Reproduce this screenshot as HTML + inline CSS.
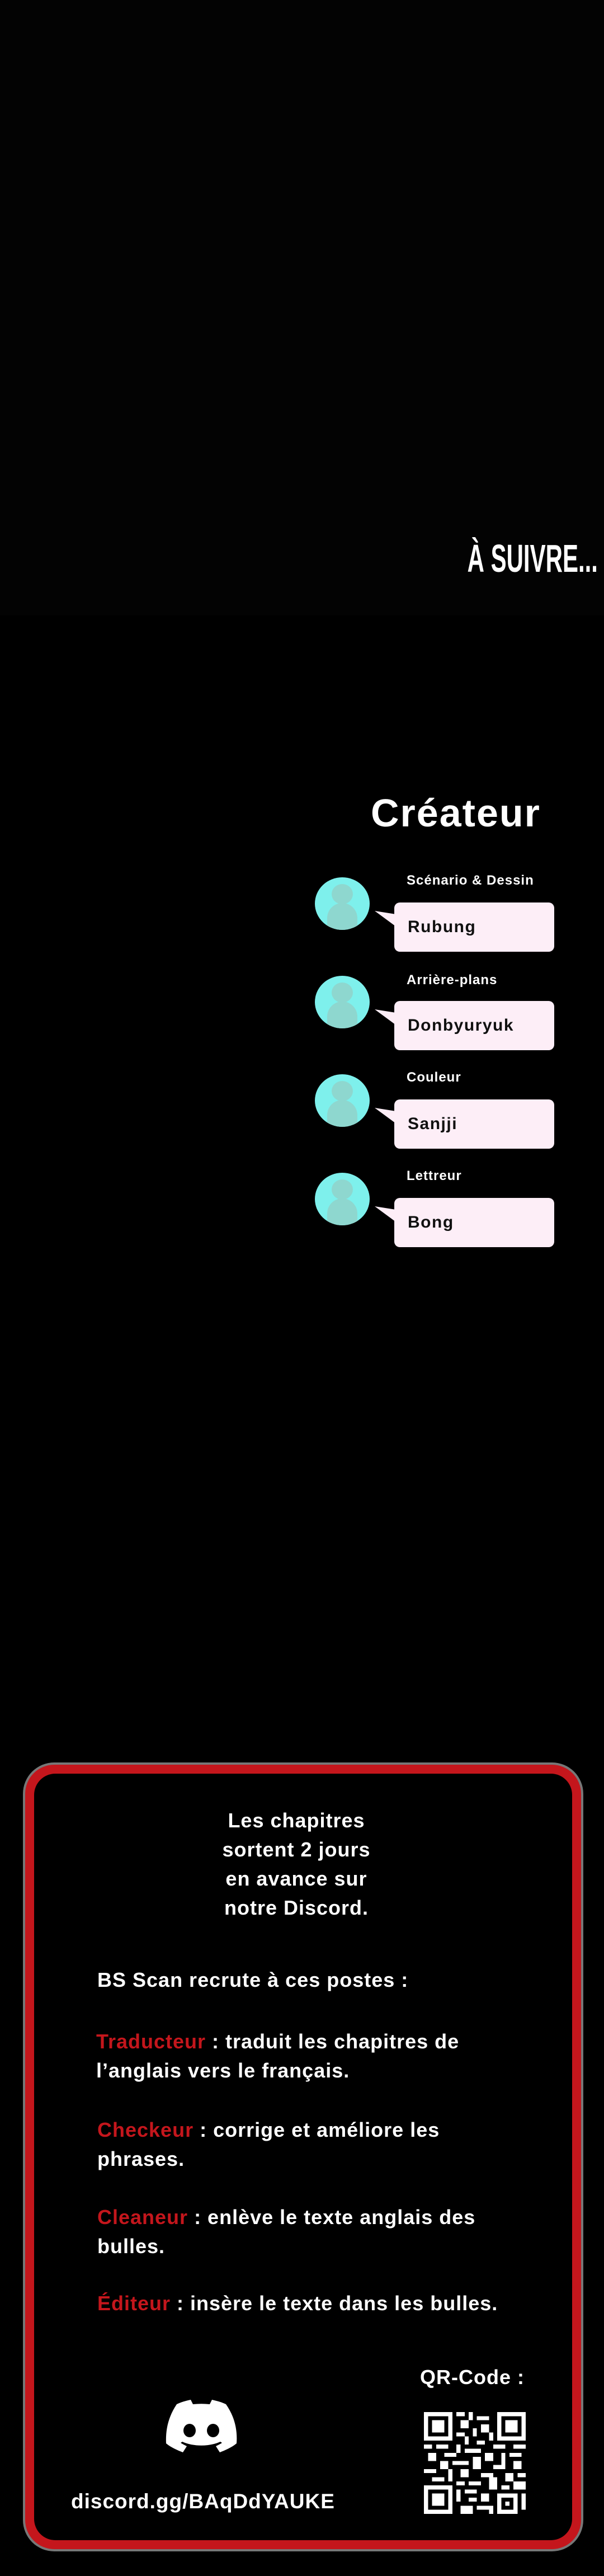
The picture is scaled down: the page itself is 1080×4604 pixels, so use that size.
<!DOCTYPE html>
<html><head><meta charset="utf-8"><style>
*{margin:0;padding:0;box-sizing:border-box}
body{width:1080px;height:4604px;background:#000;position:relative;overflow:hidden;font-family:"Liberation Sans",sans-serif;font-weight:bold;color:#fff}
.a{position:absolute;white-space:nowrap}
.top{position:absolute;left:0;top:0;width:1080px;height:1100px;background:#030303}
.av{position:absolute;width:98px;height:94px;border-radius:50%;background:#7ef0ec;overflow:hidden}
.av .h{position:absolute;left:30px;top:12px;width:38px;height:36px;border-radius:50%;background:#8ed7cf}
.av .b{position:absolute;left:22px;top:46px;width:54px;height:50px;border-radius:27px 27px 0 0;background:#8ed7cf}
.lab{position:absolute;left:727px;font-size:24px;letter-spacing:1px}
.bub{position:absolute;left:705px;width:286px;height:88px;background:#fdeef7;border-radius:10px;color:#111;font-size:30px;padding-left:24px;line-height:88px;letter-spacing:1.5px}
.box{position:absolute;left:41px;top:3150px;width:1002px;height:1410px;border-radius:56px;background:#777;padding:4px}
.box .r{width:100%;height:100%;border-radius:52px;background:#c4161c;padding:16px}
.box .k{width:100%;height:100%;border-radius:38px;background:#000}
.t{position:absolute;font-size:36px;letter-spacing:1px;white-space:nowrap}
.red{color:#c4161c}
</style></head><body>
<div class="top"></div>
<div class="a" style="right:11px;top:958px;font-family:'Liberation Sans Narrow','Liberation Sans',sans-serif;font-size:70px;line-height:80px;transform:scaleX(0.6);transform-origin:right">À SUIVRE...</div>

<div class="a" style="left:663px;top:1408px;font-size:70px;line-height:90px;letter-spacing:2px">Créateur</div>

<div class="av" style="left:563px;top:1568px"><div class="h"></div><div class="b"></div></div>
<div class="lab" style="top:1560px">Scénario &amp; Dessin</div>
<svg class="a" style="left:660px;top:1620px" width="50" height="40"><polygon points="10,8 48,14 48,36" fill="#fdeef7"/></svg>
<div class="bub" style="top:1613px">Rubung</div>

<div class="av" style="left:563px;top:1744px"><div class="h"></div><div class="b"></div></div>
<div class="lab" style="top:1738px">Arrière-plans</div>
<svg class="a" style="left:660px;top:1796px" width="50" height="40"><polygon points="10,8 48,14 48,36" fill="#fdeef7"/></svg>
<div class="bub" style="top:1789px">Donbyuryuk</div>

<div class="av" style="left:563px;top:1920px"><div class="h"></div><div class="b"></div></div>
<div class="lab" style="top:1912px">Couleur</div>
<svg class="a" style="left:660px;top:1972px" width="50" height="40"><polygon points="10,8 48,14 48,36" fill="#fdeef7"/></svg>
<div class="bub" style="top:1965px">Sanjji</div>

<div class="av" style="left:563px;top:2096px"><div class="h"></div><div class="b"></div></div>
<div class="lab" style="top:2088px">Lettreur</div>
<svg class="a" style="left:660px;top:2148px" width="50" height="40"><polygon points="10,8 48,14 48,36" fill="#fdeef7"/></svg>
<div class="bub" style="top:2141px">Bong</div>

<div class="box"><div class="r"><div class="k"></div></div></div>

<div class="t" style="left:330px;top:3228px;width:400px;text-align:center;line-height:52px">Les chapitres<br>sortent 2 jours<br>en avance sur<br>notre Discord.</div>
<div class="t" style="left:174px;top:3518px">BS Scan recrute à ces postes :</div>
<div class="t" style="left:172px;top:3623px;line-height:52px"><span class="red">Traducteur</span> : traduit les chapitres de<br>l’anglais vers le français.</div>
<div class="t" style="left:174px;top:3781px;line-height:52px"><span class="red">Checkeur</span> : corrige et améliore les<br>phrases.</div>
<div class="t" style="left:174px;top:3937px;line-height:52px"><span class="red">Cleaneur</span> : enlève le texte anglais des<br>bulles.</div>
<div class="t" style="left:174px;top:4096px"><span class="red">Éditeur</span> : insère le texte dans les bulles.</div>
<div class="t" style="left:751px;top:4228px">QR-Code :</div>

<svg class="a" style="left:296px;top:4289px" width="128" height="96" viewBox="0 0 128 96">
<path d="M108 8C100 4 92 2 83 0l-4 8c-10-1-20-1-30 0L45 0C36 2 28 4 20 8 4 32 0 55 1 78c10 8 20 12 30 16l7-11c-4-2-8-4-11-6l3-2c20 9 48 9 68 0l3 2c-3 2-7 4-11 6l7 11c10-4 20-8 30-16 2-27-5-50-19-70z" fill="#fff"/>
<ellipse cx="43" cy="55" rx="11" ry="12" fill="#000"/><ellipse cx="85" cy="55" rx="11" ry="12" fill="#000"/>
</svg>
<div class="t" style="left:127px;top:4450px;font-size:37px">discord.gg/BAqDdYAUKE</div>

<svg class="a" style="left:758px;top:4311px" width="182" height="182" viewBox="0 0 25 25" shape-rendering="crispEdges">
<g fill="#fff"><path d="M0 0h7v7H0zM18 0h7v7h-7zM0 18h7v7H0z"/></g>
<g fill="#000"><path d="M1 1h5v5H1zM19 1h5v5h-5zM1 19h5v5H1z"/></g>
<g fill="#fff"><path d="M2 2h3v3H2zM20 2h3v3h-3zM2 20h3v3H2z"/>
<path d="M8 0h2v1H8zM11 0h1v2h-1zM13 1h3v1h-3zM9 2h2v2H9zM14 3h2v2h-2zM12 4h1v2h-1zM8 5h2v1H8zM16 5h1v2h-1zM10 6h1v2h-1zM13 7h2v1h-2z
M0 8h2v1H0zM3 8h3v1H3zM8 8h1v2H8zM17 8h3v1h-3zM22 8h3v1h-3zM1 10h2v2H1zM5 10h3v1H5zM10 9h4v1h-4zM15 10h2v2h-2zM19 10h1v3h-1zM21 10h3v1h-3z
M4 12h2v2H4zM7 12h4v1H7zM12 11h2v3h-2zM17 13h3v1h-3zM22 12h2v2h-2zM0 14h3v1H0zM6 14h1v3H6zM9 14h2v2H9zM14 15h3v1h-3zM20 15h2v2h-2zM23 15h2v1h-2z
M2 16h3v1H2zM8 17h2v1H8zM11 17h3v1h-3zM16 16h2v3h-2zM19 18h2v1h-2zM22 17h3v2h-3zM8 19h1v3H8zM10 19h3v1h-3zM14 20h2v2h-2zM18 20h5v5h-5zM9 23h3v2H9zM13 23h3v1h-3zM11 21h2v1h-2zM16 23h1v2h-1zM24 20h1v4h-1z"/></g>
<path d="M19 21h3v3h-3z" fill="#000"/><path d="M20 22h1v1h-1z" fill="#fff"/>
</svg>
</body></html>
